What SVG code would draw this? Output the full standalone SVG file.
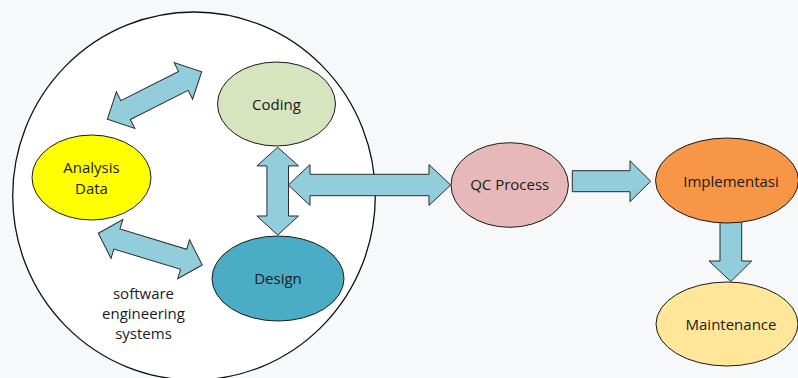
<svg xmlns="http://www.w3.org/2000/svg" width="798" height="378" viewBox="0 0 798 378">
  <style>
    .node { stroke: #1a1a1a; stroke-width: 1; }
    .arrow { fill: #92cddc; stroke: #2b2b2b; stroke-width: 1; stroke-linejoin: miter; }
    .label { font-family: "Open Sans", "Liberation Sans", Arial, sans-serif; font-size: 15px; fill: #1a1a1a; text-anchor: middle; }
  </style>
  <rect width="798" height="378" fill="#f7f8fa"/>

  <!-- system boundary -->
  <g id="system">
    <ellipse cx="194" cy="196" rx="181.3" ry="184" fill="#ffffff" stroke="#111111" stroke-width="1.3"/>
    <text class="label"><tspan x="143.5" y="298.5">software</tspan><tspan x="143.5" y="319">engineering</tspan><tspan x="143.5" y="339">systems</tspan></text>
  </g>

  <!-- connectors -->
  <g id="connectors">
    <!-- Analysis Data <-> Coding -->
    <path class="arrow" transform="translate(107.3,119.3) rotate(-26.76)" d="M0,0 L20.5,-20.5 L20.5,-10.5 L85.2,-10.5 L85.2,-20.5 L105.7,0 L85.2,20.5 L85.2,10.5 L20.5,10.5 L20.5,20.5 Z"/>
    <!-- Analysis Data <-> Design -->
    <path class="arrow" transform="translate(98.3,233.3) rotate(16.95)" d="M0,0 L19.5,-20.3 L19.5,-10.5 L89.2,-10.5 L89.2,-20.3 L108.7,0 L89.2,20.3 L89.2,10.5 L19.5,10.5 L19.5,20.3 Z"/>
    <!-- Coding <-> Design -->
    <path class="arrow" transform="translate(277.7,147.3) rotate(90)" d="M0,0 L18.6,-20.8 L18.6,-10.8 L68.7,-10.8 L68.7,-20.8 L87.7,0 L68.7,20.8 L68.7,10.8 L18.6,10.8 L18.6,20.8 Z"/>
    <!-- system <-> QC Process -->
    <path class="arrow" transform="translate(288.3,185)" d="M0,0 L21.7,-20.4 L21.7,-10.7 L140.7,-10.7 L140.7,-20.4 L162.4,0 L140.7,20.4 L140.7,10.7 L21.7,10.7 L21.7,20.4 Z"/>
    <!-- QC Process -> Implementasi -->
    <path class="arrow" d="M572.3,170.7 L630,170.7 L630,160.7 L650.7,181.2 L630,201.7 L630,191.7 L572.3,191.7 Z"/>
    <!-- Implementasi -> Maintenance -->
    <path class="arrow" d="M720,220 L741.7,220 L741.7,261 L751.7,261 L730.8,281.5 L709,261 L720,261 Z"/>
  </g>

  <g id="coding">
    <ellipse class="node" cx="276.5" cy="104" rx="59" ry="42" fill="#d7e4bd"/>
    <text class="label" x="276.5" y="109.5">Coding</text>
  </g>

  <g id="analysis-data">
    <ellipse class="node" cx="91.5" cy="177.5" rx="59.5" ry="42.5" fill="#ffff00"/>
    <text class="label"><tspan x="91.5" y="173">Analysis</tspan><tspan x="91.5" y="194">Data</tspan></text>
  </g>

  <g id="design">
    <ellipse class="node" cx="278" cy="278.5" rx="66" ry="42.5" fill="#4bacc6"/>
    <text class="label" x="278" y="283.5">Design</text>
  </g>

  <g id="qc-process">
    <ellipse class="node" cx="509.7" cy="185" rx="58.7" ry="42.3" fill="#e6b9b8"/>
    <text class="label" x="509.7" y="190">QC Process</text>
  </g>

  <g id="implementasi">
    <ellipse class="node" cx="727" cy="180.5" rx="71.5" ry="42.5" fill="#f79646"/>
    <text class="label" x="731" y="186.5">Implementasi</text>
  </g>

  <g id="maintenance">
    <ellipse class="node" cx="727" cy="324" rx="71" ry="42" fill="#ffe699"/>
    <text class="label" x="731" y="329.5">Maintenance</text>
  </g>
</svg>
